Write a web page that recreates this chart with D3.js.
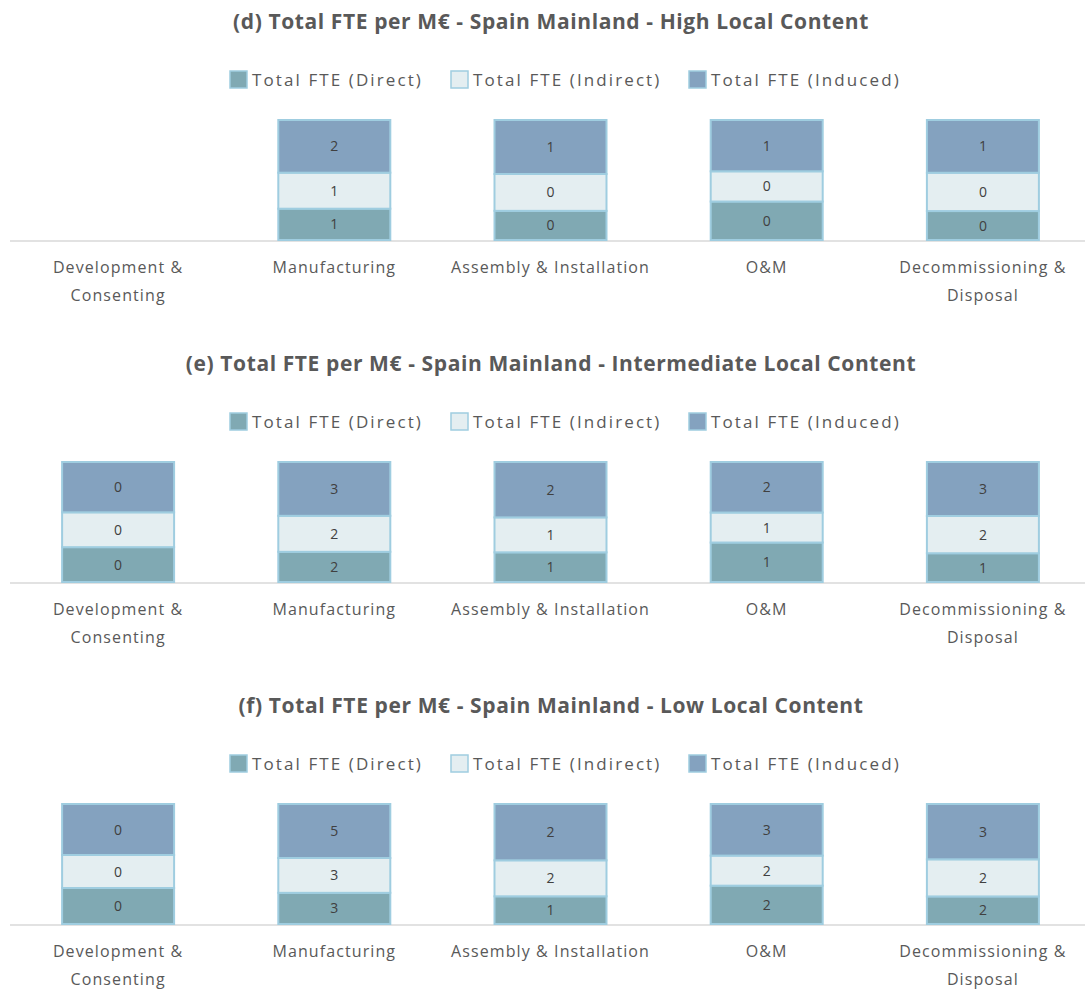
<!DOCTYPE html>
<html>
<head>
<meta charset="utf-8">
<script src="https://cdn.jsdelivr.net/npm/d3@7"></script>
<style>
  body { margin: 0; background: #fff; }
  text { font-family: "Open Sans", sans-serif; }
</style>
</head>
<body>
<svg id="chart" width="1085" height="991"></svg>
<script>
var categories = ["Development & Consenting", "Manufacturing", "Assembly & Installation", "O&M", "Decommissioning & Disposal"];
var categoryLines = [["Development &", "Consenting"], ["Manufacturing"], ["Assembly & Installation"], ["O&M"], ["Decommissioning &", "Disposal"]];
var seriesNames = ["Total FTE (Direct)", "Total FTE (Indirect)", "Total FTE (Induced)"];
var titles = [
    "(d) Total FTE per M\u20ac - Spain Mainland - High Local Content",
    "(e) Total FTE per M\u20ac - Spain Mainland - Intermediate Local Content",
    "(f) Total FTE per M\u20ac - Spain Mainland - Low Local Content"
];

// values (labels are rounded)
var highDirect   = [0, 1.20, 0.34, 0.42, 0.34];
var highIndirect = [0, 1.38, 0.43, 0.33, 0.45];
var highInduced  = [0, 2.02, 0.63, 0.56, 0.62];

var midDirect   = [0.09, 1.66, 0.90, 1.25, 1.39];
var midIndirect = [0.09, 1.98, 1.06, 0.95, 1.80];
var midInduced  = [0.13, 2.96, 1.68, 1.60, 2.61];

var lowDirect   = [0.12, 2.73, 1.20, 2.08, 1.56];
var lowIndirect = [0.11, 3.05, 1.56, 1.63, 2.10];
var lowInduced  = [0.17, 4.73, 2.44, 2.80, 3.13];

var panels = [
    [highDirect, highIndirect, highInduced],
    [midDirect, midIndirect, midInduced],
    [lowDirect, lowIndirect, lowInduced]
];

var colors = ["#80a9b3", "#e4eef1", "#84a2bf"];
var borderColor = "#9fcde0";

var svg = d3.select("#chart");

var x = d3.scaleBand().domain(categories).range([10, 1091]).padding(0);
var barW = 112;
var y = d3.scaleLinear().domain([0, 1]).range([240, 120]);

var keys = ["direct", "indirect", "induced"];

panels.forEach(function (p, k) {
    var g = svg.append("g").attr("transform", "translate(0," + (k * 342) + ")");

    var rows = categories.map(function (c, i) {
        return { cat: c, direct: p[0][i], indirect: p[1][i], induced: p[2][i] };
    });
    var stacked = d3.stack().keys(keys).offset(d3.stackOffsetExpand)(rows);

    g.append("text")
        .attr("x", 551).attr("y", 29)
        .attr("text-anchor", "middle")
        .attr("font-size", 21).attr("font-weight", "bold")
        .attr("letter-spacing", 0.6)
        .attr("fill", "#595959")
        .text(titles[k]);

    // legend
    var legX = [230, 451, 689];
    var leg = g.selectAll(".leg").data(seriesNames).enter().append("g")
        .attr("transform", function (d, i) { return "translate(" + legX[i] + ",71)"; });
    leg.append("rect")
        .attr("width", 17).attr("height", 17)
        .attr("fill", function (d, i) { return colors[i]; })
        .attr("stroke", borderColor).attr("stroke-width", 1.5);
    leg.append("text")
        .attr("x", 22).attr("y", 15)
        .attr("font-size", 17).attr("letter-spacing", 2.1)
        .attr("fill", "#595959")
        .text(function (d) { return d; });

    // baseline
    g.append("line")
        .attr("x1", 10).attr("x2", 1085)
        .attr("y1", y(0) + 1).attr("y2", y(0) + 1)
        .attr("stroke", "#d9d9d9").attr("stroke-width", 1.5);

    var layer = g.selectAll(".layer").data(stacked).enter().append("g")
        .attr("fill", function (d, i) { return colors[i]; });

    layer.selectAll("rect").data(function (d) { return d; }).enter().append("rect")
        .filter(function (d) { return d[1] - d[0] > 0; })
        .attr("x", function (d) { return x(d.data.cat) + x.bandwidth() / 2 - barW / 2; })
        .attr("y", function (d) { return y(d[1]); })
        .attr("width", barW)
        .attr("height", function (d) { return y(d[0]) - y(d[1]); })
        .attr("stroke", borderColor).attr("stroke-width", 2);

    layer.each(function (s) {
        d3.select(this).selectAll("text").data(s).enter().append("text")
            .filter(function (d) { return d[1] - d[0] > 0; })
            .attr("x", function (d) { return x(d.data.cat) + x.bandwidth() / 2; })
            .attr("y", function (d) { return (y(d[0]) + y(d[1])) / 2 + 5; })
            .attr("text-anchor", "middle")
            .attr("font-size", 14).attr("fill", "#404040")
            .text(function (d) { return d3.format(".0f")(d.data[s.key]); });
    });

    // category labels
    var catLabels = g.selectAll(".cat").data(categories).enter().append("text")
        .attr("text-anchor", "middle")
        .attr("font-size", 16).attr("letter-spacing", 1.1)
        .attr("fill", "#595959")
        .attr("transform", function (d) { return "translate(" + (x(d) + x.bandwidth() / 2) + ",273)"; });
    catLabels.each(function (d, i) {
        d3.select(this).selectAll("tspan").data(categoryLines[i]).enter().append("tspan")
            .attr("x", 0).attr("dy", function (t, j) { return j ? 28 : 0; })
            .text(function (t) { return t; });
    });
});
</script>
</body>
</html>
